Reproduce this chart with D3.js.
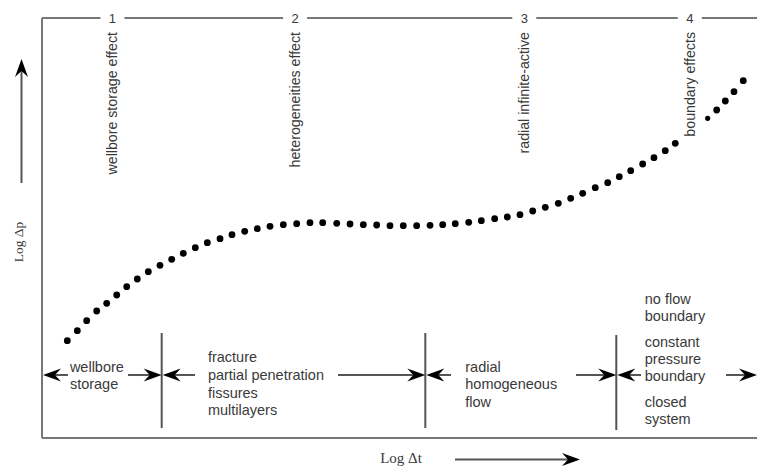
<!DOCTYPE html>
<html><head><meta charset="utf-8">
<script src="https://cdn.jsdelivr.net/npm/d3@7"></script>
<style>
html,body{margin:0;padding:0;background:#fff;}
svg{display:block;}
</style></head>
<body>
<svg id="c" width="757" height="469"></svg>
<script>
// ---- data ----
const logDt = [0.354,0.494,0.625,0.765,0.905,1.045,1.185,1.333,1.487,1.650,1.814,1.976,2.144,2.312,2.490,2.657,2.835,3.011,3.189,3.375,3.562,3.748,3.926,4.122,4.308,4.494,4.681,4.867,5.053,5.240,5.427,5.604,5.780,5.968,6.144,6.331,6.508,6.685,6.863,7.039,7.221,7.394,7.562,7.738,7.912,8.074,8.234,8.401,8.559,8.717,8.857,9.310,9.436,9.557,9.678,9.808];
const logDp = [2.317,2.555,2.793,3.024,3.207,3.405,3.602,3.786,3.960,4.112,4.255,4.398,4.531,4.650,4.745,4.840,4.921,4.983,5.040,5.079,5.102,5.126,5.126,5.112,5.095,5.079,5.071,5.055,5.055,5.055,5.064,5.079,5.102,5.136,5.174,5.221,5.262,5.317,5.405,5.493,5.588,5.707,5.826,5.960,6.079,6.221,6.364,6.524,6.674,6.840,7.017,7.612,7.810,8.024,8.245,8.507];
const regionNumbers = ["1","2","3","4"];
const regionNumberX = [0.985,3.54,6.745,9.06];
const regionEffects = ["wellbore storage effect","heterogeneities effect","radial infinite-active","boundary effects"];
const dividerX = [1.674,5.361,8.032];
const regimeLines = [
  ["wellbore","storage"],
  ["fracture","partial penetration","fissures","multilayers"],
  ["radial","homogeneous","flow"],
  ["no flow","boundary","","constant","pressure","boundary","","closed","system"]
];
const regimeTextX = [0.39, 2.32, 5.92, 8.43];
const xLabel = "Log Δt";
const yLabel = "Log Δp";

// ---- layout ----
const W = 757, H = 469;
const svg = d3.select("#c");
const x = d3.scaleLinear().domain([0,10]).range([42,757]);
const y = d3.scaleLinear().domain([0,10]).range([438,18]);
const frameCol = "#777", lineCol = "#555", txtCol = "#3a3a3a";
const sans = "'Liberation Sans', Arial, sans-serif";
const serif = "'Liberation Serif', 'Times New Roman', serif";

// frame: left + bottom
svg.append("line").attr("x1",x(0)).attr("x2",x(0)).attr("y1",y(10)).attr("y2",y(0))
  .attr("stroke",frameCol).attr("stroke-width",2);
svg.append("line").attr("x1",x(0)).attr("x2",W).attr("y1",y(0)).attr("y2",y(0))
  .attr("stroke",frameCol).attr("stroke-width",2);

// top line with gaps for the region numbers
const gap = 12;
const topStops = [x(0)].concat(regionNumberX.flatMap(v=>[x(v)-gap, x(v)+gap])).concat([W]);
for (let i=0;i<topStops.length;i+=2){
  svg.append("line").attr("x1",topStops[i]).attr("x2",topStops[i+1])
    .attr("y1",y(10)).attr("y2",y(10)).attr("stroke",frameCol).attr("stroke-width",2);
}
svg.selectAll(".rnum").data(regionNumbers).enter().append("text")
  .attr("x",(d,i)=>x(regionNumberX[i])).attr("y",y(10)).attr("dy","0.35em")
  .attr("text-anchor","middle").attr("font-family",sans).attr("font-size",13)
  .attr("fill",txtCol).text(d=>d);

// vertical region labels
svg.selectAll(".reff").data(regionEffects).enter().append("text")
  .attr("transform",(d,i)=>`translate(${x(regionNumberX[i])+1},32) rotate(-90)`)
  .attr("text-anchor","end").attr("dominant-baseline","middle")
  .attr("font-family",sans).attr("font-size",14.2).attr("fill",txtCol).text(d=>d);

// dots
svg.selectAll(".dot").data(logDt).enter().append("circle")
  .attr("cx",d=>x(d)).attr("cy",(d,i)=>y(logDp[i])).attr("r",(d,i)=>i===51?2.6:3.4)
  .attr("fill","#000");

// arrowhead helper
function head(xt, yt, dx, dy){
  const L=18, Hh=6.5, N=12;
  const px=-dy, py=dx;
  const p = [[xt,yt],[xt-dx*L+px*Hh, yt-dy*L+py*Hh],[xt-dx*N, yt-dy*N],[xt-dx*L-px*Hh, yt-dy*L-py*Hh]];
  svg.append("path").attr("d","M"+p.map(q=>q.join(",")).join("L")+"Z").attr("fill","#000");
}
// y-axis arrow + label
svg.append("line").attr("x1",21.5).attr("x2",21.5).attr("y1",183).attr("y2",68)
  .attr("stroke",lineCol).attr("stroke-width",2);
head(21.5,59,0,-1);
svg.append("text").attr("transform","translate(20,242) rotate(-90)")
  .attr("text-anchor","middle").attr("dominant-baseline","middle")
  .attr("font-family",serif).attr("font-size",13.5).attr("fill",txtCol).text(yLabel);

// x label + arrow
svg.append("text").attr("x",401).attr("y",460).attr("dominant-baseline","middle")
  .attr("text-anchor","middle").attr("font-family",serif).attr("font-size",15)
  .attr("fill",txtCol).text(xLabel);
svg.append("line").attr("x1",455).attr("x2",570).attr("y1",459.5).attr("y2",459.5)
  .attr("stroke",lineCol).attr("stroke-width",2);
head(580,459.5,1,0);

// dividers
const rowY = 375;
svg.selectAll(".div").data(dividerX).enter().append("line")
  .attr("x1",d=>x(d)).attr("x2",d=>x(d)).attr("y1",(d,i)=>i===2?335:333).attr("y2",(d,i)=>i===2?430:428)
  .attr("stroke",lineCol).attr("stroke-width",2);

// horizontal arrows: [from, to]
const arrows = [
  [68, x(0)+1],
  [128, x(dividerX[0])],
  [195, x(dividerX[0])+1],
  [338, x(dividerX[1])],
  [451, x(dividerX[1])+1],
  [576, x(dividerX[2])],
  [641, x(dividerX[2])+1],
  [726, W]
];
arrows.forEach(([a,b])=>{
  const d = b>a?1:-1;
  svg.append("line").attr("x1",a).attr("x2",b-d*10).attr("y1",rowY).attr("y2",rowY)
    .attr("stroke",lineCol).attr("stroke-width",2);
  head(b,rowY,d,0);
});

// regime text blocks
const lineH = 17.6;
const blockTop = [366.7, 357.3, 366.7, 299.3];
regimeLines.forEach((lines,i)=>{
  let yy = blockTop[i];
  lines.forEach((t)=>{
    if (t===""){ yy += 9.2; return; }
    svg.append("text").attr("x",x(regimeTextX[i])).attr("y",yy).attr("dy","0.35em")
      .attr("font-family",sans).attr("font-size",14.5).attr("fill",txtCol).text(t);
    yy += (i===3?16.8:lineH);
  });
});
</script>
</body></html>
